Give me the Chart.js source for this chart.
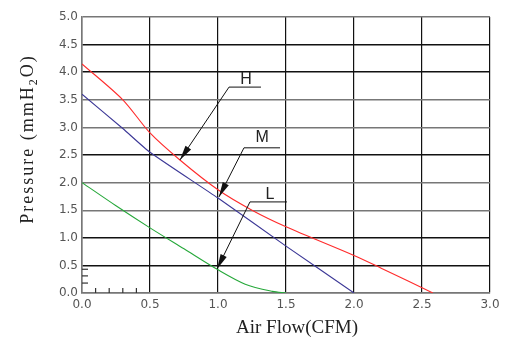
<!DOCTYPE html>
<html>
<head>
<meta charset="utf-8">
<script src="https://cdn.jsdelivr.net/npm/chart.js@4.4.0/dist/chart.umd.min.js"></script>
<style>
  html, body { margin: 0; padding: 0; background: #fff; }
  #wrap { width: 525px; height: 362px; }
</style>
</head>
<body>
<div id="wrap"><canvas id="myChart" width="525" height="362"></canvas></div>
<script>
// fan curves (x = CFM, y = mmH2O)
var curveH = [[0, 4.15], [0.3, 3.5], [0.5, 2.9], [0.72, 2.41], [1.0, 1.87], [1.25, 1.5], [1.5, 1.2], [2.0, 0.68], [2.2, 0.45], [2.58, 0]];
var curveM = [[0, 3.6], [0.3, 2.98], [0.5, 2.55], [1.0, 1.72], [1.5, 0.85], [2.0, 0]];
var curveL = [[0, 2.0], [0.25, 1.58], [0.5, 1.18], [0.75, 0.8], [1.0, 0.42], [1.2, 0.16], [1.4, 0.03], [1.5, 0]];

var xTicks = [0, 0.5, 1.0, 1.5, 2.0, 2.5, 3.0];
var yTicks = [0, 0.5, 1.0, 1.5, 2.0, 2.5, 3.0, 3.5, 4.0, 4.5, 5.0];
var yGridDark = [0.5, 1.0, 2.5, 4.0, 4.5];   // the rest are drawn grey
var xMinor = [0.1, 0.2, 0.3, 0.4];
var yMinor = [0.18, 0.31, 0.43];

// leader labels: text position, elbow, end of the short bar, arrow tip
var labels = [
  { text: 'H', at: [1.206, 3.86], elbow: [1.081, 3.73], barEnd: 1.316, tip: [0.72, 2.41] },
  { text: 'M', at: [1.324, 2.81], elbow: [1.191, 2.63], barEnd: 1.456, tip: [1.007, 1.74] },
  { text: 'L', at: [1.382, 1.775], elbow: [1.235, 1.65], barEnd: 1.507, tip: [0.993, 0.435] }
];

function toPts(arr) {
  return arr.map(function (p) { return { x: p[0], y: p[1] }; });
}

var extras = {
  id: 'extras',
  afterDraw: function (chart) {
    var ctx = chart.ctx;
    var xs = chart.scales.x, ys = chart.scales.y;
    var area = chart.chartArea;
    ctx.save();

    // small ticks in the lower left corner
    ctx.strokeStyle = '#333';
    ctx.lineWidth = 1.2;
    xMinor.forEach(function (v) {
      var px = xs.getPixelForValue(v);
      ctx.beginPath(); ctx.moveTo(px, area.bottom); ctx.lineTo(px, area.bottom - 5); ctx.stroke();
    });
    yMinor.forEach(function (v) {
      var py = ys.getPixelForValue(v);
      ctx.beginPath(); ctx.moveTo(area.left, py); ctx.lineTo(area.left + 6, py); ctx.stroke();
    });

    // leader lines with arrow heads
    labels.forEach(function (l) {
      var ex = xs.getPixelForValue(l.elbow[0]), ey = ys.getPixelForValue(l.elbow[1]);
      var bx = xs.getPixelForValue(l.barEnd);
      var tx = xs.getPixelForValue(l.tip[0]), ty = ys.getPixelForValue(l.tip[1]);
      ctx.strokeStyle = '#111';
      ctx.lineWidth = 1;
      ctx.beginPath();
      ctx.moveTo(bx, ey); ctx.lineTo(ex, ey); ctx.lineTo(tx, ty);
      ctx.stroke();
      var ang = Math.atan2(ty - ey, tx - ex);
      var len = 15, half = 3.4;
      var baseX = tx - len * Math.cos(ang), baseY = ty - len * Math.sin(ang);
      ctx.fillStyle = '#111';
      ctx.beginPath();
      ctx.moveTo(tx, ty);
      ctx.lineTo(baseX + half * Math.sin(ang), baseY - half * Math.cos(ang));
      ctx.lineTo(baseX - half * Math.sin(ang), baseY + half * Math.cos(ang));
      ctx.closePath();
      ctx.fill();

      ctx.font = '16px "Liberation Sans"';
      ctx.fillStyle = '#222';
      ctx.textAlign = 'center';
      ctx.textBaseline = 'middle';
      ctx.fillText(l.text, xs.getPixelForValue(l.at[0]), ys.getPixelForValue(l.at[1]));
    });

    // x axis title
    ctx.font = '19px "Liberation Serif"';
    ctx.fillStyle = '#222';
    ctx.textAlign = 'center';
    ctx.textBaseline = 'middle';
    ctx.fillText('Air Flow(CFM)', 297, 328);

    // y axis title with subscript 2
    ctx.translate(27, 139);
    ctx.rotate(-Math.PI / 2);
    ctx.textBaseline = 'alphabetic';
    ctx.textAlign = 'left';
    ctx.letterSpacing = '2px';
    ctx.font = '18px "Liberation Serif"';
    var p1 = 'Pressure (mmH', p3 = 'O)';
    var w1 = ctx.measureText(p1).width;
    var w3 = ctx.measureText(p3).width;
    ctx.font = '12px "Liberation Serif"';
    var w2 = ctx.measureText('2').width;
    var x0 = -(w1 + w2 + w3) / 2;
    ctx.font = '18px "Liberation Serif"';
    ctx.fillText(p1, x0, 6);
    ctx.font = '12px "Liberation Serif"';
    ctx.fillText('2', x0 + w1, 10);
    ctx.font = '18px "Liberation Serif"';
    ctx.fillText(p3, x0 + w1 + w2, 6);
    ctx.restore();
  }
};

var ctx = document.getElementById('myChart').getContext('2d');
var myChart = new Chart(ctx, {
  type: 'scatter',
  data: {
    datasets: [
      { label: 'H', data: toPts(curveH), showLine: true, borderColor: '#ff2b2b', borderWidth: 1.1, pointRadius: 0, tension: 0.3 },
      { label: 'M', data: toPts(curveM), showLine: true, borderColor: '#3b3796', borderWidth: 1.1, pointRadius: 0, tension: 0.2 },
      { label: 'L', data: toPts(curveL), showLine: true, borderColor: '#26a83a', borderWidth: 1.1, pointRadius: 0, tension: 0.3 }
    ]
  },
  options: {
    responsive: false,
    animation: false,
    layout: { padding: { top: 17, right: 35, left: 0, bottom: 0 } },
    plugins: { legend: { display: false }, tooltip: { enabled: false } },
    scales: {
      x: {
        type: 'linear', min: 0, max: 3.0,
        afterBuildTicks: function (axis) { axis.ticks = xTicks.map(function (v) { return { value: v }; }); },
        afterFit: function (axis) { axis.height = 69; },
        grid: { color: '#111', lineWidth: 1.2, drawTicks: false },
        border: { color: '#777', width: 1.5 },
        ticks: {
          padding: 5, color: '#555', font: { family: 'DejaVu Sans', size: 12 },
          callback: function (v) { return v.toFixed(1); }
        }
      },
      y: {
        type: 'linear', min: 0, max: 5.0,
        afterBuildTicks: function (axis) { axis.ticks = yTicks.map(function (v) { return { value: v }; }); },
        afterFit: function (axis) { axis.width = 82; },
        grid: {
          drawTicks: false, lineWidth: 1.4,
          color: function (c) { return yGridDark.indexOf(c.tick.value) >= 0 ? '#111' : '#777'; }
        },
        border: { color: '#777', width: 1.5 },
        ticks: {
          padding: 4, color: '#555', font: { family: 'DejaVu Sans', size: 12 },
          callback: function (v) { return v.toFixed(1); }
        }
      }
    }
  },
  plugins: [extras]
});
</script>
</body>
</html>
